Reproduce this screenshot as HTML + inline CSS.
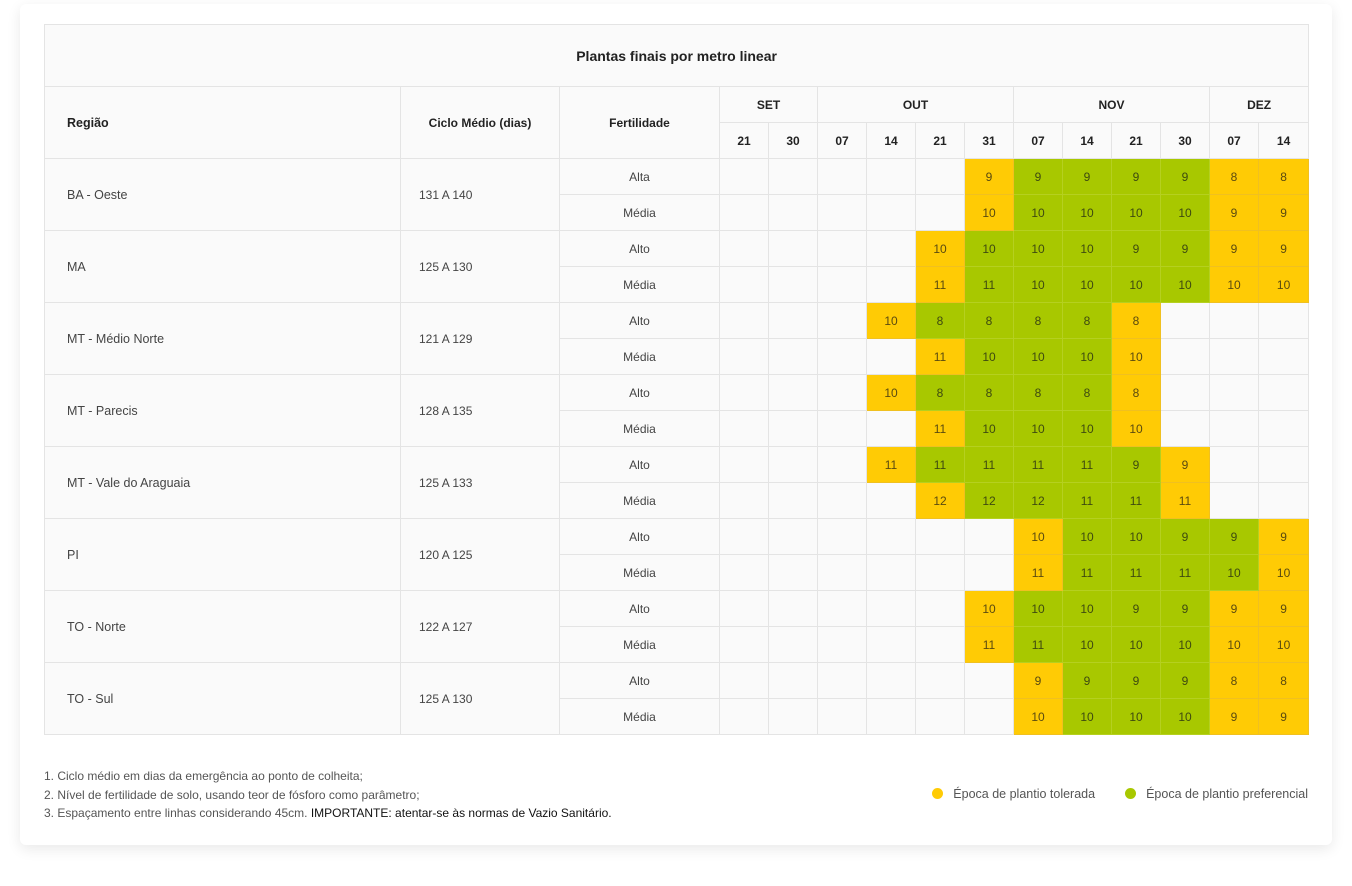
<!DOCTYPE html>
<html><head><meta charset="utf-8"><style>
body{margin:0;width:1352px;height:886px;background:#fff;font-family:"Liberation Sans",sans-serif;color:#333;position:relative;overflow:hidden}
.card{position:absolute;left:20px;top:4px;width:1312px;height:841px;background:#fff;border-radius:6px;box-shadow:0 4px 14px rgba(0,0,0,.09)}
table{position:absolute;left:44px;top:24px;border-collapse:collapse;table-layout:fixed;width:1264px}
td{border:1px solid #e4e4e4;height:35px;padding:0;font-size:12px;text-align:center;background:#fafafa;color:#444}
.h{font-weight:bold;color:#222;font-size:12px}
.t{height:61px;font-weight:bold;font-size:14px;color:#222}
.r{text-align:left;padding-left:22px;font-size:12.5px}
.c{text-align:left;padding-left:18px}
.y{background:#ffcb05;color:#5a4a10;border-color:#f0c020}
.g{background:#a8c800;color:#3e4a10;border-color:#b5d020}
.notes{position:absolute;left:44px;top:767px;font-size:12px;line-height:18.5px;color:#555}
.notes b{font-weight:normal;color:#111}
.legs{position:absolute;top:787px;right:44px;font-size:12.5px;color:#555;white-space:nowrap}
.legs span.l{margin-left:30px}
.dot{display:inline-block;width:11px;height:11px;border-radius:50%;vertical-align:-1px;margin-right:10px}
</style></head><body>
<div class="card"></div>
<table>
<colgroup><col style="width:356px"><col style="width:159px"><col style="width:160px"><col style="width:49px"><col style="width:49px"><col style="width:49px"><col style="width:49px"><col style="width:49px"><col style="width:49px"><col style="width:49px"><col style="width:49px"><col style="width:49px"><col style="width:49px"><col style="width:49px"><col style="width:50px"></colgroup>
<tr><td class="t" colspan="15">Plantas finais por metro linear</td></tr>
<tr><td class="h r" rowspan="2">Região</td><td class="h" rowspan="2">Ciclo Médio (dias)</td><td class="h" rowspan="2">Fertilidade</td><td class="h" colspan="2">SET</td><td class="h" colspan="4">OUT</td><td class="h" colspan="4">NOV</td><td class="h" colspan="2">DEZ</td></tr>
<tr><td class="h">21</td><td class="h">30</td><td class="h">07</td><td class="h">14</td><td class="h">21</td><td class="h">31</td><td class="h">07</td><td class="h">14</td><td class="h">21</td><td class="h">30</td><td class="h">07</td><td class="h">14</td></tr>

<tr><td class="r" rowspan="2">BA - Oeste</td><td class="c" rowspan="2">131 A 140</td><td>Alta</td><td></td><td></td><td></td><td></td><td></td><td class="y">9</td><td class="g">9</td><td class="g">9</td><td class="g">9</td><td class="g">9</td><td class="y">8</td><td class="y">8</td></tr>
<tr><td>Média</td><td></td><td></td><td></td><td></td><td></td><td class="y">10</td><td class="g">10</td><td class="g">10</td><td class="g">10</td><td class="g">10</td><td class="y">9</td><td class="y">9</td></tr>

<tr><td class="r" rowspan="2">MA</td><td class="c" rowspan="2">125 A 130</td><td>Alto</td><td></td><td></td><td></td><td></td><td class="y">10</td><td class="g">10</td><td class="g">10</td><td class="g">10</td><td class="g">9</td><td class="g">9</td><td class="y">9</td><td class="y">9</td></tr>
<tr><td>Média</td><td></td><td></td><td></td><td></td><td class="y">11</td><td class="g">11</td><td class="g">10</td><td class="g">10</td><td class="g">10</td><td class="g">10</td><td class="y">10</td><td class="y">10</td></tr>

<tr><td class="r" rowspan="2">MT - Médio Norte</td><td class="c" rowspan="2">121 A 129</td><td>Alto</td><td></td><td></td><td></td><td class="y">10</td><td class="g">8</td><td class="g">8</td><td class="g">8</td><td class="g">8</td><td class="y">8</td><td></td><td></td><td></td></tr>
<tr><td>Média</td><td></td><td></td><td></td><td></td><td class="y">11</td><td class="g">10</td><td class="g">10</td><td class="g">10</td><td class="y">10</td><td></td><td></td><td></td></tr>

<tr><td class="r" rowspan="2">MT - Parecis</td><td class="c" rowspan="2">128 A 135</td><td>Alto</td><td></td><td></td><td></td><td class="y">10</td><td class="g">8</td><td class="g">8</td><td class="g">8</td><td class="g">8</td><td class="y">8</td><td></td><td></td><td></td></tr>
<tr><td>Média</td><td></td><td></td><td></td><td></td><td class="y">11</td><td class="g">10</td><td class="g">10</td><td class="g">10</td><td class="y">10</td><td></td><td></td><td></td></tr>

<tr><td class="r" rowspan="2">MT - Vale do Araguaia</td><td class="c" rowspan="2">125 A 133</td><td>Alto</td><td></td><td></td><td></td><td class="y">11</td><td class="g">11</td><td class="g">11</td><td class="g">11</td><td class="g">11</td><td class="g">9</td><td class="y">9</td><td></td><td></td></tr>
<tr><td>Média</td><td></td><td></td><td></td><td></td><td class="y">12</td><td class="g">12</td><td class="g">12</td><td class="g">11</td><td class="g">11</td><td class="y">11</td><td></td><td></td></tr>

<tr><td class="r" rowspan="2">PI</td><td class="c" rowspan="2">120 A 125</td><td>Alto</td><td></td><td></td><td></td><td></td><td></td><td></td><td class="y">10</td><td class="g">10</td><td class="g">10</td><td class="g">9</td><td class="g">9</td><td class="y">9</td></tr>
<tr><td>Média</td><td></td><td></td><td></td><td></td><td></td><td></td><td class="y">11</td><td class="g">11</td><td class="g">11</td><td class="g">11</td><td class="g">10</td><td class="y">10</td></tr>

<tr><td class="r" rowspan="2">TO - Norte</td><td class="c" rowspan="2">122 A 127</td><td>Alto</td><td></td><td></td><td></td><td></td><td></td><td class="y">10</td><td class="g">10</td><td class="g">10</td><td class="g">9</td><td class="g">9</td><td class="y">9</td><td class="y">9</td></tr>
<tr><td>Média</td><td></td><td></td><td></td><td></td><td></td><td class="y">11</td><td class="g">11</td><td class="g">10</td><td class="g">10</td><td class="g">10</td><td class="y">10</td><td class="y">10</td></tr>

<tr><td class="r" rowspan="2">TO - Sul</td><td class="c" rowspan="2">125 A 130</td><td>Alto</td><td></td><td></td><td></td><td></td><td></td><td></td><td class="y">9</td><td class="g">9</td><td class="g">9</td><td class="g">9</td><td class="y">8</td><td class="y">8</td></tr>
<tr><td>Média</td><td></td><td></td><td></td><td></td><td></td><td></td><td class="y">10</td><td class="g">10</td><td class="g">10</td><td class="g">10</td><td class="y">9</td><td class="y">9</td></tr>
</table>
<div class="notes">1. Ciclo médio em dias da emergência ao ponto de colheita;<br>2. Nível de fertilidade de solo, usando teor de fósforo como parâmetro;<br>3. Espaçamento entre linhas considerando 45cm. <b>IMPORTANTE: atentar-se às normas de Vazio Sanitário.</b></div>
<div class="legs"><span><span class="dot" style="background:#ffcb05"></span>Época de plantio tolerada</span><span class="l"><span class="dot" style="background:#a8c800"></span>Época de plantio preferencial</span></div>
</body></html>
